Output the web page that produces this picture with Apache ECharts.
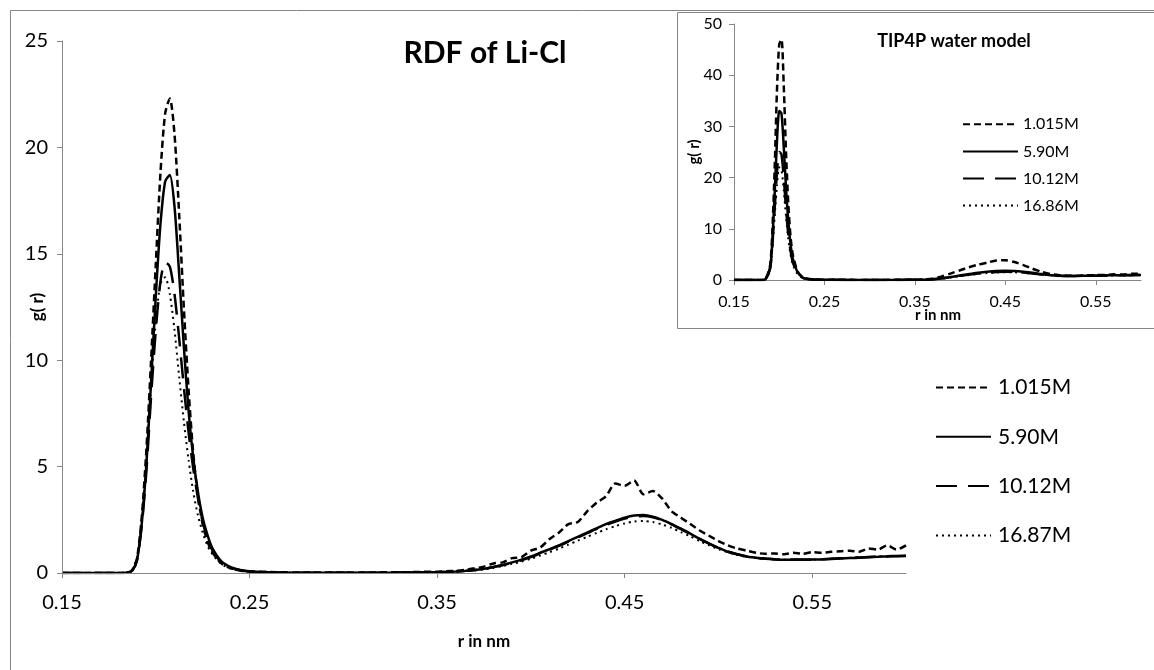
<!DOCTYPE html>
<html>
<head>
<meta charset="utf-8">
<script src="https://cdn.jsdelivr.net/npm/echarts@6/dist/echarts.min.js"></script>
<style>
html,body{margin:0;padding:0;background:#fff;}
#c{width:1154px;height:670px;}
</style>
</head>
<body>
<div id="c"></div>
<script>
// ---------- Main chart data (RDF of Li-Cl) ----------
const rMain = [
  0.15, 0.17, 0.18, 0.185,
  0.1875, 0.19, 0.1925, 0.195, 0.1975, 0.2, 0.2025, 0.205, 0.2075, 0.21, 0.2125, 0.215, 0.2175, 0.22, 0.2225, 0.225, 0.2275, 0.23,
  0.235, 0.24, 0.245, 0.25,
  0.26, 0.27, 0.28, 0.29, 0.30, 0.31, 0.32, 0.33, 0.34, 0.35,
  0.355, 0.36, 0.365, 0.37, 0.375, 0.38, 0.385, 0.39, 0.395, 0.40,
  0.405, 0.41, 0.415, 0.42, 0.425, 0.43, 0.435, 0.44, 0.445, 0.45,
  0.455, 0.46, 0.465, 0.47, 0.475, 0.48, 0.485, 0.49, 0.495, 0.50,
  0.505, 0.51, 0.515, 0.52, 0.525, 0.53, 0.535, 0.54, 0.545, 0.55,
  0.555, 0.56, 0.565, 0.57, 0.575, 0.58, 0.585, 0.59, 0.595, 0.60
];
const main1015 = [
  0, 0, 0, 0.02,
  0.15, 0.7, 2.6, 5.8, 10, 14.5, 18.8, 21.6, 22.3, 20.6, 16.8, 12.4, 8.6, 5.6, 3.6, 2.3, 1.5, 1.0,
  0.45, 0.22, 0.12, 0.08,
  0.05, 0.03, 0.02, 0.02, 0.02, 0.02, 0.03, 0.03, 0.05, 0.06,
  0.08, 0.1, 0.15, 0.22, 0.3, 0.45, 0.5, 0.7, 0.75, 1.05,
  1.2, 1.6, 1.9, 2.3, 2.4, 2.9, 3.3, 3.6, 4.2, 4.1,
  4.35, 3.7, 3.85, 3.5, 2.9, 2.6, 2.3, 2.0, 1.75, 1.5,
  1.3, 1.15, 1.05, 0.95, 0.9, 0.92, 0.88, 0.95, 0.9, 0.98,
  0.95, 1.0, 1.02, 1.05, 1.0, 1.15, 1.1, 1.3, 1.1, 1.3
];
const main590 = [
  0, 0, 0, 0.02,
  0.12, 0.6, 2.3, 5.1, 9, 13, 16.4, 18.4, 18.7, 17.2, 14, 10.6, 7.6, 5.4, 3.8, 2.6, 1.8, 1.2,
  0.55, 0.28, 0.14, 0.08,
  0.04, 0.02, 0.01, 0.01, 0.01, 0.01, 0.01, 0.02, 0.03, 0.04,
  0.05, 0.07, 0.1, 0.14, 0.2, 0.28, 0.38, 0.5, 0.63, 0.78,
  0.95, 1.12, 1.3, 1.5, 1.7, 1.9, 2.1, 2.3, 2.45, 2.6,
  2.7, 2.72, 2.65, 2.5, 2.3, 2.08, 1.85, 1.6, 1.38, 1.18,
  1.0, 0.88, 0.78, 0.72, 0.67, 0.64, 0.62, 0.62, 0.62, 0.63,
  0.64, 0.66, 0.68, 0.7, 0.72, 0.74, 0.76, 0.78, 0.79, 0.8
];
const main1012 = [
  0, 0, 0, 0.02,
  0.12, 0.6, 2.2, 4.8, 8.3, 11.4, 13.7, 14.6, 14.4, 13.1, 11, 8.7, 6.6, 4.9, 3.5, 2.4, 1.65, 1.1,
  0.5, 0.25, 0.13, 0.07,
  0.04, 0.02, 0.01, 0.01, 0.01, 0.01, 0.01, 0.02, 0.03, 0.04,
  0.05, 0.07, 0.1, 0.14, 0.2, 0.28, 0.37, 0.48, 0.6, 0.75,
  0.92, 1.1, 1.28, 1.47, 1.67, 1.87, 2.07, 2.25, 2.42, 2.56,
  2.65, 2.68, 2.62, 2.48, 2.28, 2.06, 1.83, 1.6, 1.38, 1.18,
  1.01, 0.88, 0.78, 0.72, 0.68, 0.65, 0.63, 0.63, 0.63, 0.64,
  0.65, 0.67, 0.69, 0.71, 0.73, 0.75, 0.77, 0.79, 0.8, 0.81
];
const main1687 = [
  0, 0, 0, 0.03,
  0.15, 0.7, 2.5, 5.3, 8.8, 11.8, 13.6, 13.9, 13.1, 11.4, 9.2, 7.1, 5.3, 3.8, 2.7, 1.9, 1.3, 0.9,
  0.42, 0.2, 0.1, 0.06,
  0.03, 0.02, 0.01, 0.01, 0.01, 0.01, 0.01, 0.02, 0.03, 0.04,
  0.05, 0.07, 0.09, 0.12, 0.17, 0.24, 0.33, 0.43, 0.54, 0.67,
  0.82, 0.98, 1.15, 1.33, 1.52, 1.7, 1.88, 2.05, 2.2, 2.33,
  2.42, 2.44, 2.4, 2.28, 2.12, 1.92, 1.72, 1.5, 1.3, 1.12,
  0.97, 0.85, 0.76, 0.7, 0.66, 0.64, 0.62, 0.62, 0.62, 0.63,
  0.65, 0.67, 0.69, 0.71, 0.73, 0.75, 0.77, 0.78, 0.8, 0.8
];

// ---------- Inset data (TIP4P water model) ----------
const rInset = [
  0.15, 0.18, 0.185, 0.19, 0.1925, 0.195, 0.1975, 0.2, 0.2025, 0.205,
  0.2075, 0.21, 0.2125, 0.215, 0.22, 0.225, 0.23, 0.24, 0.25,
  0.30, 0.35,
  0.36, 0.37, 0.38, 0.39, 0.40, 0.41, 0.42, 0.43, 0.44, 0.45,
  0.46, 0.47, 0.48, 0.49, 0.50, 0.51, 0.52, 0.53, 0.54, 0.55,
  0.56, 0.57, 0.58, 0.59, 0.60
];
const inset1015 = [
  0, 0, 0.2, 3, 10, 22, 37, 46, 47, 38,
  25, 15, 8.5, 5, 1.8, 0.7, 0.3, 0.1, 0.05,
  0.02, 0.05,
  0.1, 0.3, 0.7, 1.3, 1.9, 2.5, 3.0, 3.4, 3.8, 3.85,
  3.5, 2.9, 2.2, 1.6, 1.15, 0.95, 0.85, 0.85, 0.9, 0.95,
  1.0, 1.1, 1.05, 1.2, 1.2
];
const inset590 = [
  0, 0, 0.2, 2.5, 8, 17, 27, 33, 32.5, 26,
  18, 11.5, 7, 4.2, 1.6, 0.6, 0.25, 0.08, 0.04,
  0.01, 0.03,
  0.05, 0.15, 0.35, 0.6, 0.9, 1.15, 1.4, 1.6, 1.75, 1.8,
  1.75, 1.6, 1.4, 1.15, 0.95, 0.85, 0.8, 0.8, 0.82, 0.85,
  0.9, 0.92, 0.95, 0.97, 0.98
];
const inset1012 = [
  0, 0, 0.2, 2.3, 7, 14, 21, 25, 24.5, 20,
  14, 9, 5.7, 3.5, 1.4, 0.55, 0.22, 0.07, 0.04,
  0.01, 0.03,
  0.05, 0.14, 0.32, 0.55, 0.82, 1.05, 1.28, 1.45, 1.58, 1.62,
  1.58, 1.45, 1.28, 1.08, 0.92, 0.84, 0.8, 0.8, 0.82, 0.85,
  0.88, 0.9, 0.93, 0.95, 0.96
];
const inset1686 = [
  0, 0, 0.2, 2.2, 6.5, 12.5, 18.5, 22, 21.5, 17.5,
  12.5, 8, 5, 3.1, 1.2, 0.5, 0.2, 0.06, 0.03,
  0.01, 0.03,
  0.05, 0.12, 0.28, 0.5, 0.75, 0.98, 1.2, 1.36, 1.48, 1.52,
  1.5, 1.4, 1.25, 1.08, 0.93, 0.85, 0.81, 0.8, 0.82, 0.85,
  0.88, 0.9, 0.93, 0.95, 0.96
];

// ---------- Labels ----------
const mainNames = ['1.015M', '5.90M', '10.12M', '16.87M'];
const insetNames = ['1.015M', '5.90M', '10.12M', '16.86M'];
const xTicks = [0.15, 0.25, 0.35, 0.45, 0.55];
const mainTitle = 'RDF of Li-Cl';
const insetTitle = 'TIP4P water model';
const xTitle = 'r in nm';
const yTitle = 'g( r)';

const FONT = 'Lato, "Open Sans", sans-serif';
const AXIS_GRAY = '#868686';
const styles = [
  { type: [7, 4], width: 2.5 },
  { type: 'solid', width: 2.5 },
  { type: [21, 11], width: 2.5 },
  { type: [2, 4], width: 2 }
];

function pairs(xs, ys) { return xs.map((x, i) => [x, ys[i]]); }

const mainSets = [main1015, main590, main1012, main1687];
const insetSets = [inset1015, inset590, inset1012, inset1686];
const ZW = '\u200b';

const series = [];
mainSets.forEach((d, i) => {
  series.push({
    type: 'line', name: mainNames[i], xAxisIndex: 0, yAxisIndex: 0,
    data: pairs(rMain, d), symbol: 'none', showSymbol: false, smooth: 0.25, z: 3,
    color: '#000', itemStyle: { color: '#000' },
    lineStyle: { color: '#000', width: styles[i].width, type: styles[i].type, cap: 'butt' }
  });
});
insetSets.forEach((d, i) => {
  series.push({
    type: 'line', name: insetNames[i] + (i < 3 ? ZW : ''), xAxisIndex: 1, yAxisIndex: 1,
    data: pairs(rInset, d), symbol: 'none', showSymbol: false, smooth: 0.25, z: 5,
    color: '#000', itemStyle: { color: '#000' },
    lineStyle: { color: '#000', width: styles[i].width, type: styles[i].type, cap: 'butt' }
  });
});

function axisX(grid, fs, margin) {
  return {
    type: 'value', gridIndex: grid, min: 0.15, max: 0.6, z: 4,
    splitLine: { show: false },
    axisLine: { show: true, lineStyle: { color: AXIS_GRAY, width: 1 } },
    axisTick: { show: true, inside: false, length: 5, lineStyle: { color: AXIS_GRAY }, customValues: xTicks },
    axisLabel: { color: '#000', fontFamily: FONT, fontSize: fs, margin: margin, customValues: xTicks,
      formatter: v => v.toFixed(2) }
  };
}
function axisY(grid, max, interval, fs, margin) {
  return {
    type: 'value', gridIndex: grid, min: 0, max: max, interval: interval, z: 4,
    splitLine: { show: false },
    axisLine: { show: true, lineStyle: { color: AXIS_GRAY, width: 1 } },
    axisTick: { show: true, inside: false, length: 5, lineStyle: { color: AXIS_GRAY } },
    axisLabel: { color: '#000', fontFamily: FONT, fontSize: fs, margin: margin }
  };
}

const legends = [];
mainNames.forEach((n, i) => {
  legends.push({
    left: 935, top: 387 + i * 49.3 - 10, padding: 0, itemWidth: 55, itemHeight: 20, itemGap: 0,
    data: [n], selectedMode: false, z: 6,
    itemStyle: { opacity: 0 },
    textStyle: { color: '#000', fontFamily: FONT, fontSize: 21, padding: [0, 0, 0, 2] }
  });
});
insetNames.forEach((n, i) => {
  legends.push({
    left: 962, top: 125.3 + i * 27.1 - 9, padding: 0, itemWidth: 55, itemHeight: 18, itemGap: 0,
    data: [n + (i < 3 ? ZW : '')], selectedMode: false, z: 6,
    itemStyle: { opacity: 0 },
    formatter: s => s.replace(ZW, ''),
    textStyle: { color: '#000', fontFamily: FONT, fontSize: 16, padding: [0, 0, 0, 0] }
  });
});

const option = {
  animation: false,
  backgroundColor: '#fff',
  grid: [
    { left: 62, top: 41, width: 844, height: 532 },
    { left: 734, top: 24, width: 407, height: 256 }
  ],
  xAxis: [axisX(0, 20, 20), axisX(1, 16, 14)],
  yAxis: [axisY(0, 25, 5, 20, 14), axisY(1, 50, 10, 16, 12)],
  legend: legends,
  graphic: [
    { type: 'rect', z: -10, silent: true, shape: { x: 10.5, y: 10.5, width: 1200, height: 700 },
      style: { fill: 'none', stroke: AXIS_GRAY, lineWidth: 1 } },
    { type: 'rect', z: -5, silent: true, shape: { x: 677.5, y: 12.5, width: 600, height: 316 },
      style: { fill: '#fff', stroke: AXIS_GRAY, lineWidth: 1 } },
    { type: 'text', z: 10, x: 485, y: 53, style: { text: mainTitle, font: 'bold 30px ' + FONT, fill: '#000', align: 'center', verticalAlign: 'middle' } },
    { type: 'text', z: 10, x: 484, y: 642, style: { text: xTitle, font: 'bold 17px ' + FONT, fill: '#000', align: 'center', verticalAlign: 'middle' } },
    { type: 'text', z: 10, x: 38, y: 307, rotation: Math.PI / 2, style: { text: yTitle, font: 'bold 17px ' + FONT, fill: '#000', align: 'center', verticalAlign: 'middle' } },
    { type: 'text', z: 10, x: 954, y: 41, style: { text: insetTitle, font: 'bold 18px ' + FONT, fill: '#000', align: 'center', verticalAlign: 'middle' } },
    { type: 'text', z: 10, x: 938, y: 315, style: { text: xTitle, font: 'bold 15px ' + FONT, fill: '#000', align: 'center', verticalAlign: 'middle' } },
    { type: 'text', z: 10, x: 694, y: 152, rotation: Math.PI / 2, style: { text: yTitle, font: 'bold 15px ' + FONT, fill: '#000', align: 'center', verticalAlign: 'middle' } }
  ],
  series: series
};

const chart = echarts.init(document.getElementById('c'), null, { renderer: 'canvas' });
chart.setOption(option);
</script>
</body>
</html>
